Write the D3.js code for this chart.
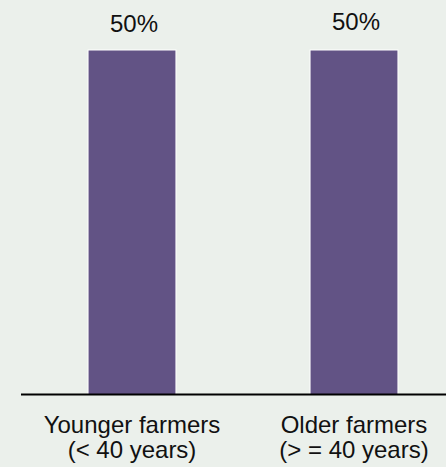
<!DOCTYPE html>
<html>
<head>
<meta charset="utf-8">
<script src="https://cdn.jsdelivr.net/npm/d3@7"></script>
<style>
  html, body { margin: 0; padding: 0; background: #EBF0EB; }
  svg { display: block; }
  text { font-family: "Liberation Sans", Arial, sans-serif; fill: #111; }
</style>
</head>
<body>
<svg id="chart" width="446" height="467"></svg>
<script>
const categories = ["Younger farmers|(< 40 years)", "Older farmers|(> = 40 years)"];
const values = [50, 50];
const valueLabels = ["50%", "50%"];

const W = 446, H = 467;
const svg = d3.select("#chart");
svg.append("rect").attr("width", W).attr("height", H).attr("fill", "#EBF0EB");

const x = d3.scaleBand().domain(categories).range([21, 465])
  .paddingInner(0.604).paddingOuter(0.302);
const y = d3.scaleLinear().domain([0, 50]).range([394.5, 50]);

svg.selectAll("rect.bar").data(values).join("rect")
  .attr("class", "bar")
  .attr("x", (d, i) => x(categories[i]))
  .attr("y", d => y(d))
  .attr("width", x.bandwidth())
  .attr("height", d => y(0) - y(d))
  .attr("fill", "#625385")
  .attr("stroke", "#ffffff")
  .attr("stroke-width", 1);

svg.selectAll("text.val").data(values).join("text")
  .attr("class", "val")
  .attr("x", (d, i) => x(categories[i]) + x.bandwidth() / 2 + 2)
  .attr("y", (d, i) => y(d) - (i === 0 ? 18.5 : 20))
  .attr("text-anchor", "middle")
  .style("font-size", "24px")
  .text((d, i) => valueLabels[i]);

// baseline axis
svg.append("line")
  .attr("x1", 21).attr("x2", W)
  .attr("y1", y(0)).attr("y2", y(0))
  .attr("stroke", "#000").attr("stroke-width", 2);

// category labels
const lab = svg.selectAll("text.cat").data(categories).join("text")
  .attr("class", "cat")
  .attr("text-anchor", "middle")
  .style("font-size", "24px");
lab.each(function(d) {
  const parts = d.split("|");
  const t = d3.select(this);
  const cx = x(d) + x.bandwidth() / 2;
  parts.forEach((p, j) => {
    t.append("tspan").attr("x", cx).attr("y", 433 + j * 25).text(p);
  });
});
</script>
</body>
</html>
